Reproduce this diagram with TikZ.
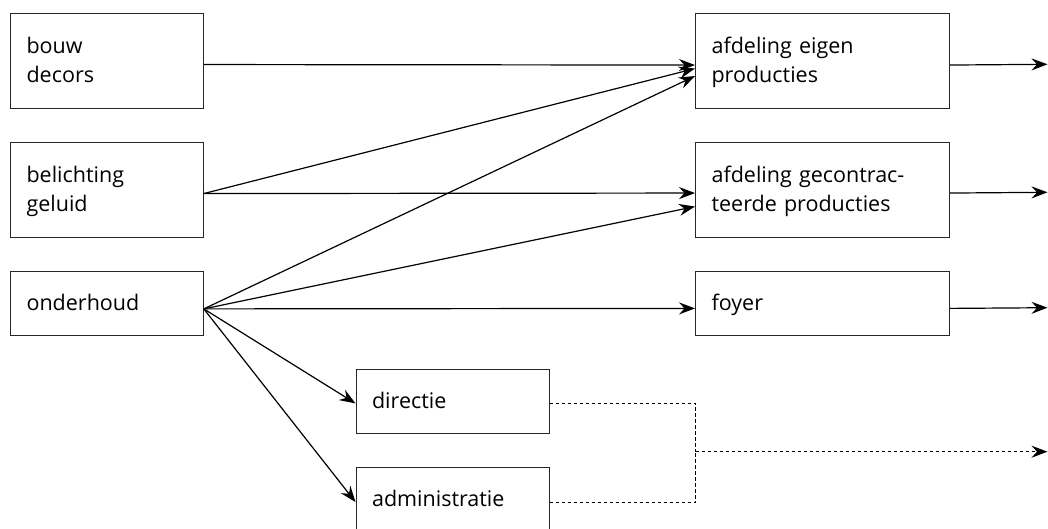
\documentclass[tikz,border=0pt]{standalone}
\usepackage{fontspec}
\setmainfont{Open Sans}
\usetikzlibrary{arrows.meta}
\newcommand\lstrut{\rule[-5pt]{0pt}{24pt}}
\tikzset{
  boxnode/.style={draw=black!85, line width=1.1pt, anchor=north west, inner xsep=16pt, inner ysep=0pt,
    align=left, font=\fontsize{21.5}{29}\selectfont},
  wideL/.style={text width=160.7pt},
  wideR/.style={text width=222pt},
  wideM/.style={text width=161pt},
  tipstyle/.style={-{Stealth[length=16pt,width=12pt,inset=5.5pt]}},
  conn/.style={line width=1.2pt, tipstyle},
  dconn/.style={line width=1.2pt, dash pattern=on 3.5pt off 2.5pt},
}
\begin{document}
\begin{tikzpicture}[x=1pt,y=-1pt]
\useasboundingbox (0,0) rectangle (1048,529);
% left column
\node[boxnode, wideL, minimum height=95pt] (bd) at (10,13) {\lstrut bouw\\\lstrut decors};
\node[boxnode, wideL, minimum height=94.4pt] (bl) at (10,142.3) {\lstrut belichting\\\lstrut geluid};
\node[boxnode, wideL, minimum height=64.3pt] (on) at (10,270.7) {\lstrut onderhoud};
% right column
\node[boxnode, wideR, minimum height=95pt] (aep) at (695,13) {\lstrut afdeling eigen\\\lstrut producties};
\node[boxnode, wideR, minimum height=94.4pt] (agp) at (695,142.3) {\lstrut afdeling gecontrac-\\\lstrut teerde producties};
\node[boxnode, wideR, minimum height=64.3pt] (fo) at (695,270.7) {\lstrut foyer};
% middle
\node[boxnode, wideM, minimum height=63.7pt] (di) at (355.5,369) {\lstrut directie};
\node[boxnode, wideM, minimum height=64pt] (ad) at (355.5,467) {\lstrut administratie};
% free ends
\coordinate (o1) at (1047.5,64.3);
\coordinate (o2) at (1047.5,192.3);
\coordinate (o3) at (1047.5,307.7);
\coordinate (o4) at (1047.5,451.7);
\coordinate (m) at (695.7,451.7);
% connectors
\draw[conn] ([yshift=-3.5pt]bd.east) -- ([yshift=-4pt]aep.west);
\draw[conn] ([yshift=-3.5pt]bl.east) -- ([yshift=-7.5pt]aep.west);
\draw[conn] ([yshift=-5.5pt]on.east) -- ([yshift=-15pt]aep.west);
\draw[conn] ([yshift=-3.5pt]bl.east) -- ([yshift=-3pt]agp.west);
\draw[conn] ([yshift=-5.5pt]on.east) -- ([yshift=-16.5pt]agp.west);
\draw[conn] ([yshift=-5.5pt]on.east) -- ([yshift=-5pt]fo.west);
\draw[conn] ([yshift=-5.5pt]on.east) -- ([yshift=-2pt]di.west);
\draw[conn] ([yshift=-5.5pt]on.east) -- ([yshift=-2.5pt]ad.west);
\draw[conn] ([yshift=-4pt]aep.east) -- (o1);
\draw[conn] ([yshift=-3pt]agp.east) -- (o2);
\draw[conn] ([yshift=-5pt]fo.east) -- (o3);
\draw[dconn] ([yshift=-2.15pt]di.east) -| (m);
\draw[dconn] ([yshift=-3pt]ad.east) -| (m);
\draw[dconn, tipstyle] (m) -- (o4);
\end{tikzpicture}
\end{document}
